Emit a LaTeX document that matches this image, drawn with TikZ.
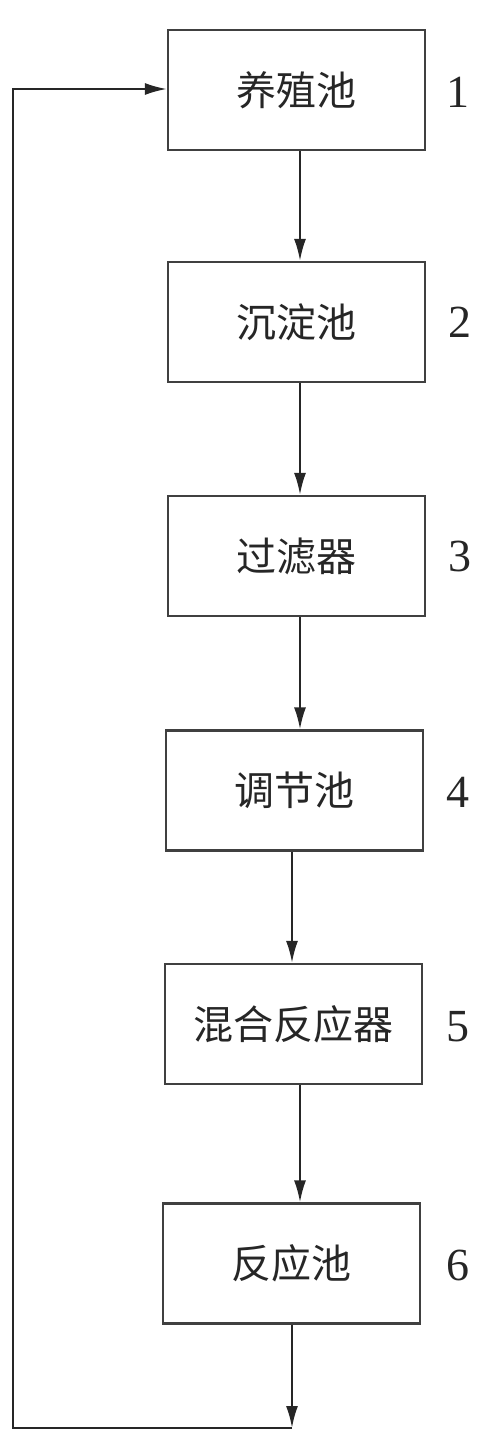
\documentclass[tikz,border=0pt]{standalone}
\usepackage{fontspec}
\newfontfamily\cjk{Noto Sans CJK SC}
\setmainfont{Liberation Serif}
\usetikzlibrary{arrows.meta}
\begin{document}
\begin{tikzpicture}[x=1pt,y=-1pt,
  stagebox/.style={draw=black!75,line width=2.2pt,minimum width=257pt,minimum height=120pt,inner sep=0pt,font=\cjk\fontsize{40}{40}\selectfont,text=black!85},
  numlabel/.style={font=\fontsize{46}{46}\selectfont,text=black!85},
  flow/.style={draw=black!85,line width=2.2pt,-{Latex[length=22pt,width=12pt]}}]
\useasboundingbox (0,0) rectangle (500,1445);
\node[stagebox] (b1) at (296.5,90) {养殖池};
\node[stagebox] (b2) at (296.5,322) {沉淀池};
\node[stagebox] (b3) at (296.5,556) {过滤器};
\node[stagebox] (b4) at (294.5,790.5) {调节池};
\node[stagebox] (b5) at (293.5,1024) {混合反应器};
\node[stagebox] (b6) at (291.5,1263.5) {反应池};
\node[numlabel] (n1) at (458,92) {1};
\node[numlabel] (n2) at (460,322) {2};
\node[numlabel] (n3) at (460,556) {3};
\node[numlabel] (n4) at (458,792) {4};
\node[numlabel] (n5) at (458,1027) {5};
\node[numlabel] (n6) at (458,1265) {6};
\coordinate (c1) at (292,1428);
\coordinate (c2) at (13,1428);
\coordinate (c3) at (13,89);
\draw[flow] (b1.south -| 300,0) -- (b2.north -| 300,0);
\draw[flow] (b2.south -| 300,0) -- (b3.north -| 300,0);
\draw[flow] (b3.south -| 300,0) -- (b4.north -| 300,0);
\draw[flow] (b4.south -| 292,0) -- (b5.north -| 292,0);
\draw[flow] (b5.south -| 300,0) -- (b6.north -| 300,0);
\draw[flow] (b6.south -| c1) -- (c1);
\draw[flow] (c1) -- (c2) -- (c3) -- (b1.west |- c3);
\end{tikzpicture}
\end{document}
